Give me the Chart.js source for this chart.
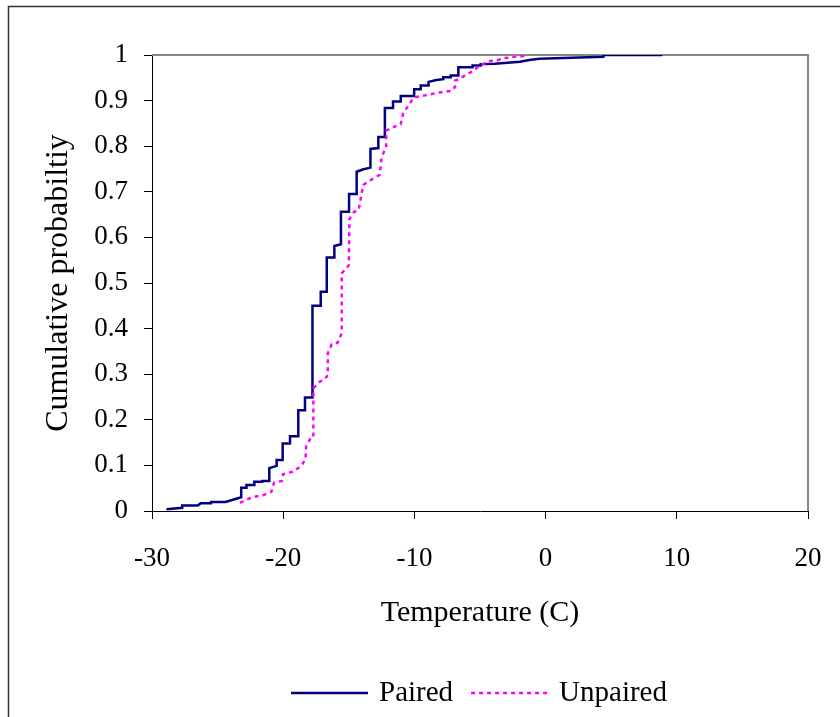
<!DOCTYPE html>
<html>
<head>
<meta charset="utf-8">
<title>Cumulative probability</title>
<script src="https://cdn.jsdelivr.net/npm/chart.js@4.4.0/dist/chart.umd.min.js"></script>
<style>
  body { margin: 0; background: #fff; }
  canvas { display: block; }
</style>
</head>
<body>
<canvas id="chart-cdf" width="840" height="717"></canvas>
<script>
'use strict';

// step curve vertices (temperature in C, cumulative probability)
var pairedTemp = [-28.9, -27.7, -27.7, -26.5, -26.3, -25.5, -25.5, -24.4, -23.2, -23.2,
    -22.8, -22.8, -22.2, -22.2, -21.6, -21.6, -21.06, -21.06, -20.5, -20.5,
    -20.04, -20.04, -19.48, -19.48, -18.85, -18.85, -18.34, -18.34, -17.77, -17.77,
    -17.14, -17.14, -16.68, -16.68, -16.1, -16.1, -15.6, -15.6, -14.98, -14.98,
    -14.4, -14.4, -13.94, -13.35, -13.35, -12.75, -12.75, -12.25, -12.25, -11.63,
    -11.63, -11.04, -11.04, -10.02, -10.02, -9.52, -9.52, -8.92, -8.92, -8.33,
    -7.8, -7.8, -7.23, -7.23, -6.65, -6.65, -5.57, -5.57, -4.95, -4.95,
    -3.86, -1.95, -1.24, -0.48, 4.4, 4.4, 8.9];
var pairedProb = [0.004, 0.007, 0.012, 0.012, 0.017, 0.017, 0.020, 0.020, 0.030, 0.051,
    0.051, 0.057, 0.057, 0.064, 0.064, 0.066, 0.066, 0.094, 0.099, 0.112,
    0.112, 0.148, 0.148, 0.164, 0.164, 0.221, 0.221, 0.249, 0.249, 0.450,
    0.450, 0.481, 0.481, 0.556, 0.556, 0.581, 0.585, 0.656, 0.656, 0.695,
    0.695, 0.744, 0.749, 0.753, 0.794, 0.796, 0.820, 0.820, 0.884, 0.884,
    0.898, 0.898, 0.910, 0.910, 0.925, 0.925, 0.933, 0.933, 0.941, 0.945,
    0.947, 0.951, 0.951, 0.955, 0.955, 0.973, 0.973, 0.977, 0.977, 0.980,
    0.981, 0.985, 0.989, 0.992, 0.996, 1.0, 1.0];

var unpairedTemp = [-23.3, -22.4, -21.5, -20.9, -20.7, -20.1, -20.0, -19.3, -18.6, -18.3,
    -18.25, -17.9, -17.7, -17.7, -17.2, -16.9, -16.6, -16.6, -16.3, -15.85,
    -15.54, -15.54, -15.0, -14.95, -14.6, -14.25, -13.9, -13.1, -12.65, -12.5,
    -12.15, -12.15, -11.5, -11.05, -10.85, -10.35, -10.05, -9.1, -8.1, -7.2,
    -6.9, -6.9, -6.6, -6.0, -5.5, -5.1, -4.5, -4.2, -3.6, -3.3,
    -2.7, -2.4, -1.8, -1.55];
var unpairedProb = [0.018, 0.030, 0.035, 0.042, 0.062, 0.066, 0.081, 0.086, 0.099, 0.115,
    0.142, 0.160, 0.162, 0.269, 0.284, 0.287, 0.298, 0.346, 0.366, 0.369,
    0.390, 0.521, 0.539, 0.640, 0.656, 0.660, 0.715, 0.730, 0.737, 0.775,
    0.800, 0.834, 0.843, 0.848, 0.872, 0.894, 0.907, 0.912, 0.918, 0.921,
    0.930, 0.944, 0.947, 0.958, 0.965, 0.976, 0.983, 0.987, 0.989, 0.993,
    0.994, 0.996, 0.997, 1.0];

var seriesNames = ['Paired', 'Unpaired'];
var xTitle = 'Temperature (C)';
var yTitle = 'Cumulative probabiltiy';

var serif = '"Liberation Serif", "Times New Roman", serif';

var toPoints = function(xs, ys) {
    var pts = [];
    for (var i = 0; i < xs.length; i++) {
        pts.push({x: xs[i], y: ys[i]});
    }
    return pts;
};

// white page, outer frame, grey top/right plot border, legend under the plot
var framePlugin = {
    id: 'frame',
    beforeDraw: function(chart) {
        var c = chart.ctx;
        c.save();
        c.fillStyle = '#fff';
        c.fillRect(0, 0, chart.width, chart.height);
        c.strokeStyle = '#333';
        c.lineWidth = 1.5;
        c.strokeRect(8.5, 6.5, chart.width + 20, chart.height + 20);
        c.restore();
    },
    beforeDatasetsDraw: function(chart) {
        var c = chart.ctx;
        var a = chart.chartArea;
        c.save();
        c.strokeStyle = '#888';
        c.lineWidth = 2;
        c.beginPath();
        c.moveTo(a.left, a.top);
        c.lineTo(a.right, a.top);
        c.lineTo(a.right, a.bottom);
        c.stroke();
        c.restore();
    },
    afterDraw: function(chart) {
        var c = chart.ctx;
        c.save();
        var y = 693;
        var x = 291;
        c.font = '29px ' + serif;
        c.textBaseline = 'middle';
        c.fillStyle = '#000';
        chart.data.datasets.slice().sort(function(p, q) { return p.legendIndex - q.legendIndex; })
            .forEach(function(ds) {
                c.strokeStyle = ds.borderColor;
                c.lineWidth = ds.borderWidth;
                c.setLineDash(ds.borderDash || []);
                c.beginPath();
                c.moveTo(x, y);
                c.lineTo(x + 77, y);
                c.stroke();
                c.setLineDash([]);
                x += 88;
                c.fillText(ds.label, x, y);
                x += c.measureText(ds.label).width + 18;
            });
        c.restore();
    }
};

var ctx_cdf = document.getElementById('chart-cdf').getContext('2d');

var chart_cdf = new Chart(ctx_cdf, {
    type: 'scatter',
    data: {
        datasets: [{
                label: seriesNames[1],
                legendIndex: 1,
                data: toPoints(unpairedTemp, unpairedProb),
                showLine: true,
                borderColor: '#ff00ff',
                borderWidth: 2.5,
                borderDash: [4, 4],
                pointRadius: 0,
                tension: 0,
                order: 0
            },
            {
                label: seriesNames[0],
                legendIndex: 0,
                data: toPoints(pairedTemp, pairedProb),
                showLine: true,
                borderColor: '#000080',
                borderWidth: 2.5,
                pointRadius: 0,
                tension: 0,
                order: 1
            }
        ]
    },
    options: {
        responsive: false,
        animation: false,
        layout: {
            padding: {left: 20, top: 55, right: 32, bottom: 81}
        },
        plugins: {
            legend: {display: false},
            tooltip: {enabled: false}
        },
        scales: {
            x: {
                type: 'linear',
                min: -30,
                max: 20,
                afterFit: function(scale) {
                    scale.height = 125;
                    scale.paddingLeft = 0;
                    scale.paddingRight = 0;
                },
                border: {color: '#000', width: 1},
                grid: {drawOnChartArea: false, drawTicks: true, tickLength: 8, color: '#000'},
                ticks: {
                    stepSize: 10,
                    padding: 24,
                    color: '#000',
                    font: {family: serif, size: 27}
                },
                title: {
                    display: true,
                    text: xTitle,
                    color: '#000',
                    font: {family: serif, size: 30},
                    padding: {top: 0, bottom: 5}
                }
            },
            y: {
                type: 'linear',
                min: 0,
                max: 1,
                afterFit: function(scale) {
                    scale.width = 132;
                    scale.paddingTop = 0;
                    scale.paddingBottom = 0;
                },
                border: {color: '#000', width: 1},
                grid: {drawOnChartArea: false, drawTicks: true, tickLength: 8, color: '#000'},
                ticks: {
                    stepSize: 0.1,
                    padding: 16,
                    color: '#000',
                    font: {family: serif, size: 27},
                    callback: function(v) { return String(Math.round(v * 10) / 10); }
                },
                title: {
                    display: true,
                    text: yTitle,
                    color: '#000',
                    font: {family: serif, size: 32},
                    padding: {top: 19, bottom: 0}
                }
            }
        }
    },
    plugins: [framePlugin]
});
</script>
</body>
</html>
